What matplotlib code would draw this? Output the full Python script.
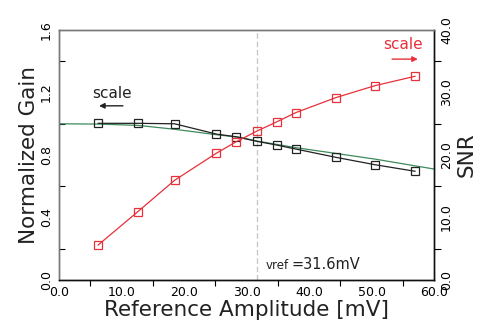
import numpy as np
import matplotlib.pyplot as plt
from matplotlib.ticker import MultipleLocator

plt.rcParams['font.family'] = ['DejaVu Sans']

# measured points
amp = [6.3, 12.6, 18.5, 25.2, 28.3, 31.6, 34.8, 37.9, 44.3, 50.5, 56.9]
gain = [1.003, 1.003, 1.0, 0.934, 0.917, 0.888, 0.864, 0.838, 0.785, 0.738, 0.696]
snr = [5.6, 10.9, 15.95, 20.3, 22.1, 23.8, 25.3, 26.8, 29.2, 31.1, 32.6]

# theory curve
th_amp = [0, 6.3, 12.6, 18.5, 25.2, 29.0, 31.6, 37.9, 44.3, 50.5, 60.0]
th_gain = [1.0, 0.998, 0.99, 0.965, 0.93, 0.913, 0.89, 0.847, 0.81, 0.774, 0.71]

vref = 31.6

fig = plt.figure(figsize=(4.8, 3.34), dpi=100)
ax = fig.add_axes([0.1223, 0.1617, 0.7827, 0.7483])
ax2 = ax.twinx()

red = '#e8303a'
ax.plot(th_amp, th_gain, color='#3d8a5c', lw=0.9, zorder=2)
ax.plot(amp, gain, color='#222222', lw=0.9, marker='s', ms=6, mfc='none', mec='#222222', mew=0.9, zorder=3)
ax2.plot(amp, snr, color=red, lw=0.9, marker='s', ms=6, mfc='none', mec=red, mew=0.9)
ax.axvline(vref, color='#c8c8c8', lw=1.0, ls=(0, (4, 2)), zorder=1)

ax.set_xlim(0, 60)
ax.set_ylim(0, 1.6)
ax2.set_ylim(0, 40)

ax.set_xticks(np.arange(0, 61, 10))
ax.set_xticklabels(['%.1f' % v for v in np.arange(0, 61, 10)], fontsize=9)
ax.set_xticks(np.arange(5, 60, 10), minor=True)
ax.tick_params(axis='x', which='major', length=0, pad=4)
ax.tick_params(axis='x', which='minor', direction='out', length=4, width=0.8)

ax.set_yticks(np.arange(0, 1.61, 0.4))
ax.set_yticklabels(['%.1f' % v for v in np.arange(0, 1.61, 0.4)], fontsize=9, rotation=90, va='center')
ax.set_yticks(np.arange(0.2, 1.6, 0.4), minor=True)
ax.tick_params(axis='y', which='major', length=0, pad=4)
ax.tick_params(axis='y', which='minor', direction='in', length=4, width=0.8)

ax2.set_yticks(np.arange(0, 41, 10))
ax2.set_yticklabels(['%.1f' % v for v in np.arange(0, 41, 10)], fontsize=9, rotation=90, va='center')
ax2.set_yticks(np.arange(5, 40, 10), minor=True)
ax2.tick_params(axis='y', which='major', length=0, pad=4)
ax2.tick_params(axis='y', which='minor', direction='out', length=5, width=0.8)

for a in (ax, ax2):
    a.spines['left'].set_color('#777777')
    a.spines['top'].set_color('#777777')
    a.spines['bottom'].set_color('#111111')
    a.spines['right'].set_color('#111111')
    for s in a.spines.values():
        s.set_linewidth(1.0)

ax.set_xlabel('Reference Amplitude [mV]', fontsize=15.5, labelpad=1, color='#222222')
ax.set_ylabel('Normalized Gain', fontsize=15.5, labelpad=1, color='#222222')
ax2.set_ylabel('SNR', fontsize=15.5, labelpad=3, color='#222222')

ax.text(5.4, 1.165, 'scale', fontsize=11, color='#222222')
ax.annotate('', xy=(6.0, 1.115), xytext=(10.7, 1.115),
            arrowprops=dict(arrowstyle='-|>', color='#222222', lw=1.0, mutation_scale=8))
ax.text(51.8, 1.478, 'scale', fontsize=11, color=red)
ax.annotate('', xy=(57.8, 1.414), xytext=(52.8, 1.414),
            arrowprops=dict(arrowstyle='-|>', color=red, lw=1.0, mutation_scale=8))
ax.text(33.0, 0.07, 'vref', fontsize=8.5, color='#222222')
ax.text(37.2, 0.07, '=31.6mV', fontsize=10.5, color='#222222')

fig.savefig('out.png', dpi=100)
